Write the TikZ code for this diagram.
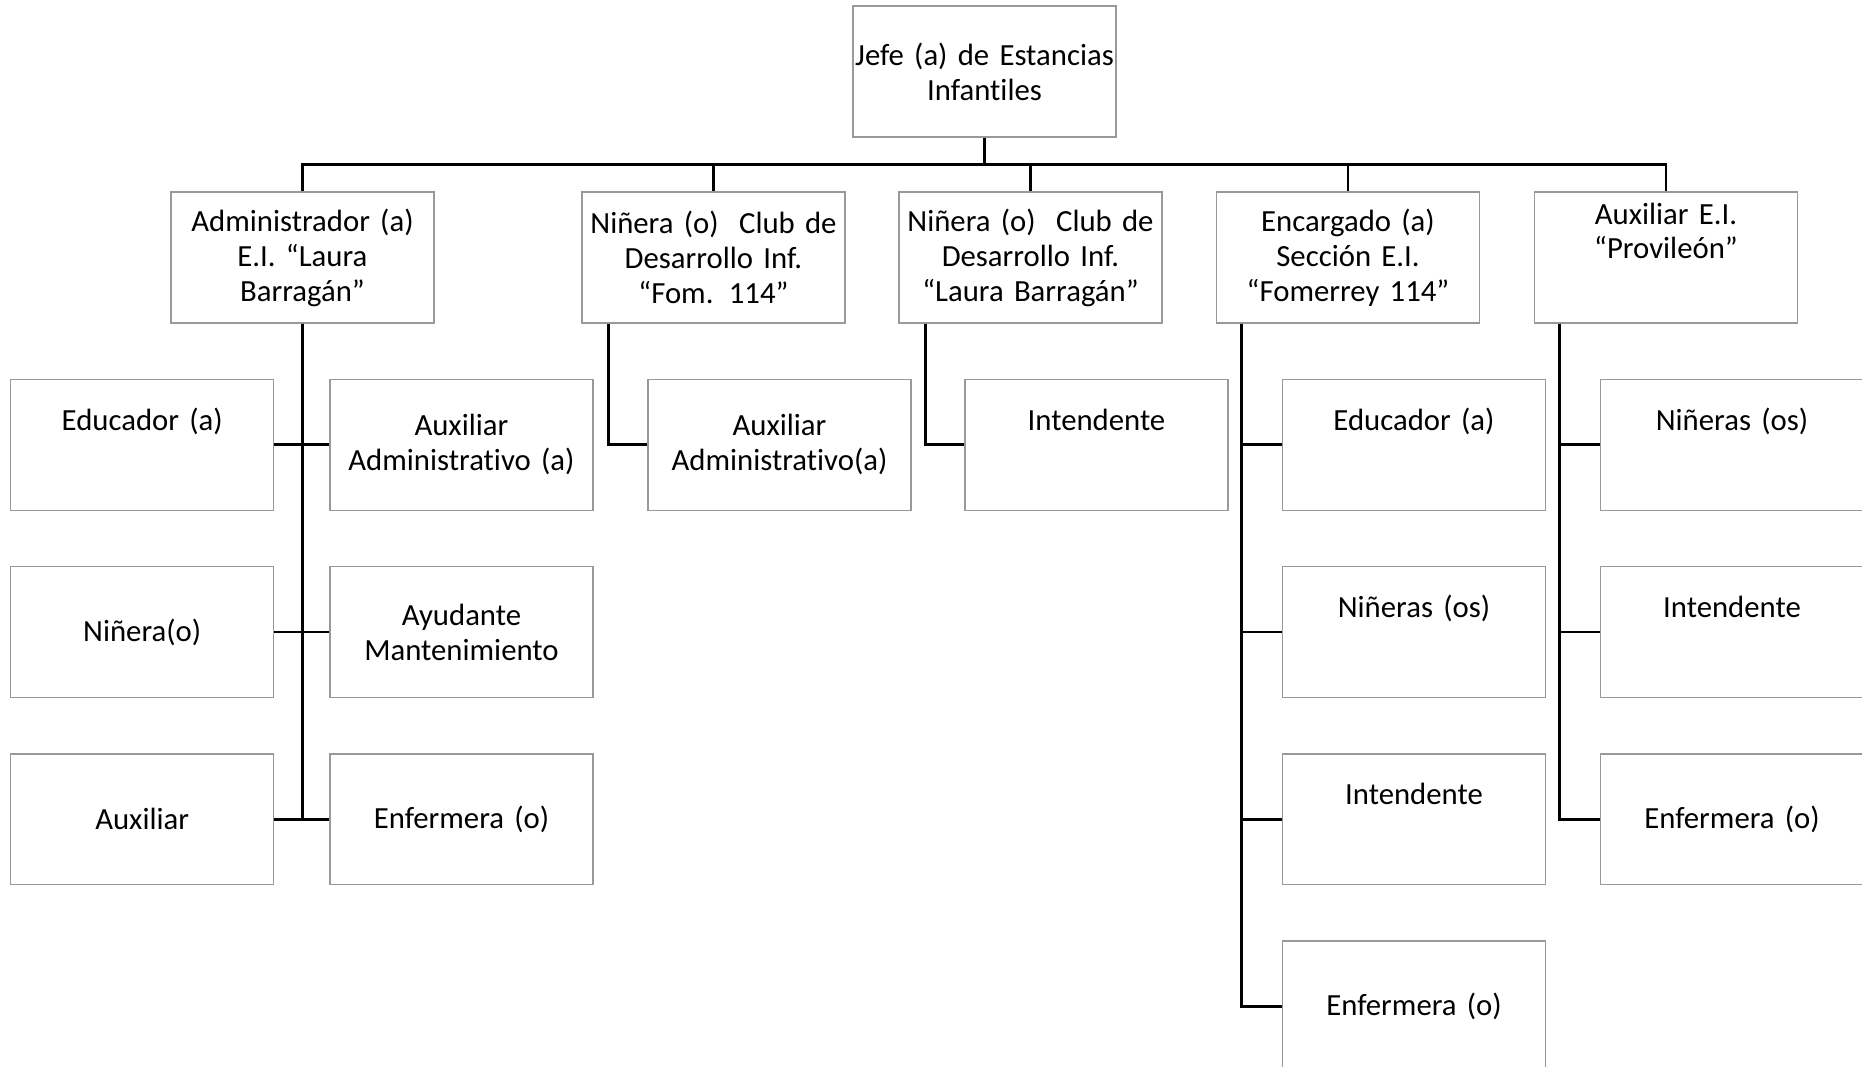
\documentclass[tikz,border=0pt]{standalone}
\usepackage{fontspec}
\setmainfont{Carlito}[Ligatures=NoCommon]
\usetikzlibrary{positioning}

\begin{document}
\begin{tikzpicture}[-,
					x=0.02cm,y=-0.02cm,
					node distance=1.1cm,
					line width=1.6pt,
					font=\fontsize{17.5}{19.9}\selectfont,
					main node/.style={rectangle,draw=black!40,line width=0.75pt,
						text width=5.26cm,minimum height=2.62cm,
						inner xsep=0pt,inner ysep=0pt,align=center},
					high node/.style={main node,text height=1.02cm,text depth=1.6cm}]

  \useasboundingbox (0,0) rectangle (1862,1067);

  \node[main node] (J) at (984.5,71.5) {Jefe (a) de Estancias\\Infantiles};
  \node[main node] (A) at (302.5,257.5) {Administrador (a)\\E.I. “Laura\\Barragán”};
  \node[main node] (F) at (713.5,257.5) {Niñera (o) \ Club de\\Desarrollo Inf.\\“Fom. 114”};
  \node[main node] (L) at (1030.5,257.5) {Niñera (o) \ Club de\\Desarrollo Inf.\\“Laura Barragán”};
  \node[main node] (E) at (1348,257.5) {Encargado (a)\\Sección E.I.\\“Fomerrey 114”};
  \node[main node,text height=0.64cm,text depth=1.98cm] (P) at (1666,257.5) {Auxiliar E.I.\\“Provileón”};

  % Administrador
  \node[main node] (A4) [below=of A,xshift=3.18cm] {Auxiliar\\Administrativo (a)};
  \node[main node] (A5) [below=of A4] {Ayudante\\Mantenimiento};
  \node[main node] (A6) [below=of A5] {Enfermera (o)};
  \node[high node] (A1) [left=of A4] {Educador (a)};
  \node[main node] (A2) [left=of A5] {Niñera(o)};
  \node[main node] (A3) [left=of A6] {Auxiliar};

  % clubes
  \node[main node] (F1) [below=of F,xshift=1.32cm] {Auxiliar\\Administrativo(a)};
  \node[high node] (L1) [below=of L,xshift=1.32cm] {Intendente};

  % Encargado
  \node[high node] (E1) [below=of E,xshift=1.32cm] {Educador (a)};
  \node[high node] (E2) [below=of E1] {Niñeras (os)};
  \node[high node] (E3) [below=of E2] {Intendente};
  \node[main node] (E4) [below=of E3] {Enfermera (o)};

  % Provileon
  \node[high node] (P1) [below=of P,xshift=1.32cm] {Niñeras (os)};
  \node[high node] (P2) [below=of P1] {Intendente};
  \node[main node] (P3) [below=of P2] {Enfermera (o)};

  \foreach \n in {A,F,L,E,P}
    \draw (J.south) -- ++(0,27) -| (\n.north);
  \foreach \n in {A1,A2,A3}
    \draw (A.south) |- (\n.east);
  \foreach \n in {A4,A5,A6}
    \draw (A.south) |- (\n.west);
  \draw ([xshift=0.54cm]F.south west) |- (F1.west);
  \draw ([xshift=0.54cm]L.south west) |- (L1.west);
  \foreach \n in {E1,E2,E3,E4}
    \draw ([xshift=0.52cm]E.south west) |- (\n.west);
  \foreach \n in {P1,P2,P3}
    \draw ([xshift=0.52cm]P.south west) |- (\n.west);
\end{tikzpicture}
\end{document}
